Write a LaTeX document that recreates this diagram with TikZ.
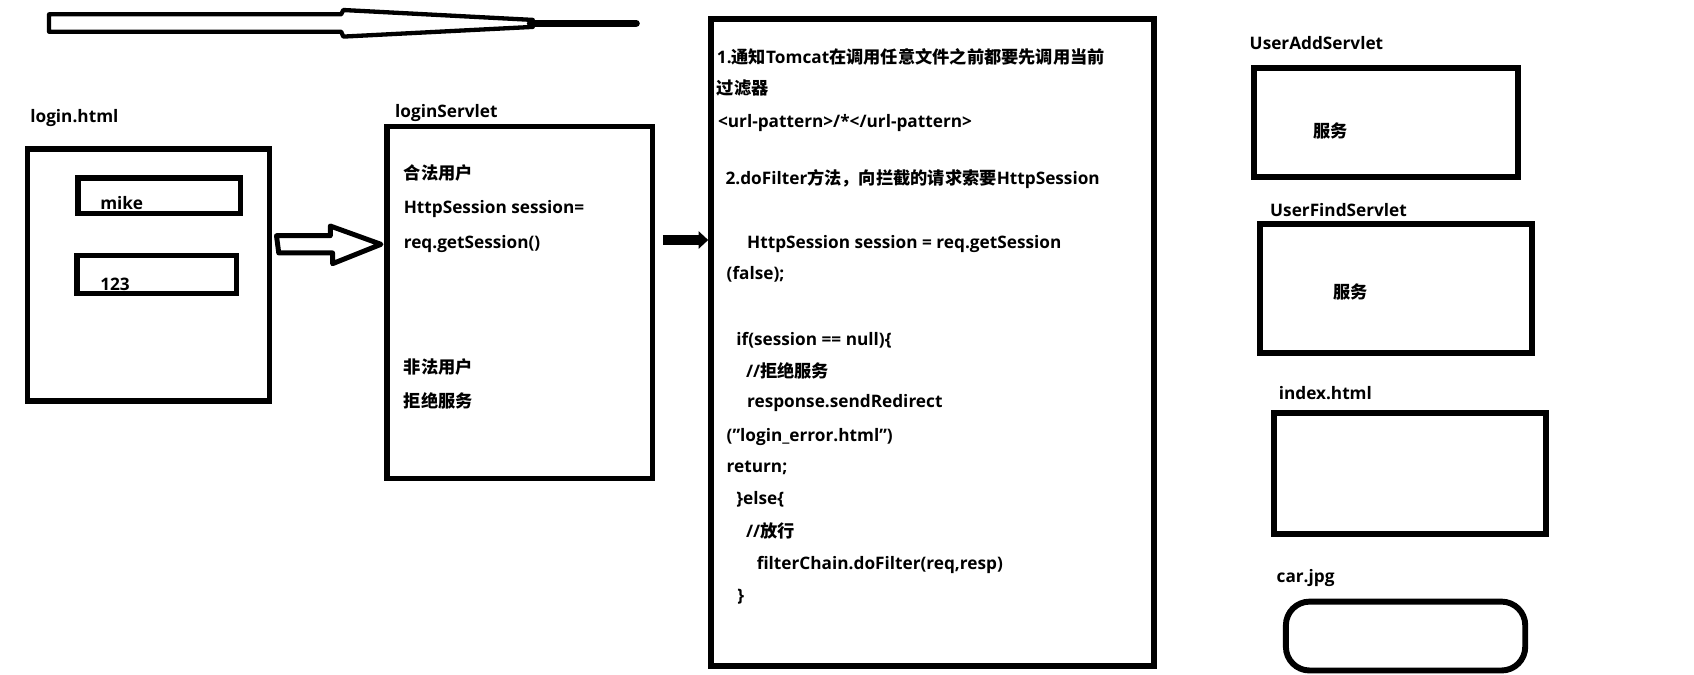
\documentclass[tikz,border=0pt]{standalone}
\usepackage{fontspec}
\setmainfont{Open Sans}
\newfontfamily\cjk{Noto Sans CJK SC}
\usetikzlibrary{calc,arrows.meta}

\tikzset{
  box/.style={draw, line width=5pt, inner sep=0pt},
  txt/.style={anchor=base west, inner sep=0pt, font=\fontsize{16}{18}\selectfont\bfseries},
}

\begin{document}
\begin{tikzpicture}[x=1pt,y=-1pt]

\useasboundingbox (0,0) rectangle (1574,627);

% the long arrow at the top
\draw[line width=4pt, line join=round] (45.6,13.3) -- (317,13.3) -- (319,9.3) -- (495,18.5)
   -- (495,25) -- (319,34) -- (317,29.5) -- (45.6,29.5) -- cycle;
\draw[line width=7pt, line cap=round] (493,21.7) -- (591,21.7);

% login.html
\node[txt] (loginlbl) at (28,114) {login.html};
\node[box, minimum width=225pt, minimum height=234pt] (login) at (137.9,255.5) {};
\node[box, minimum width=151pt, minimum height=33pt] (user) at (148,182) {};
\node[txt] (userval) at (93,195) {mike};
\node[box, minimum width=148pt, minimum height=35pt] (pwd) at (145.5,255) {};
\node[txt] (pwdval) at (93,270) {123};

% loginServlet
\node[txt] (servletlbl) at (367,109) {loginServlet};
\node[box, minimum width=247pt, minimum height=327pt] (servlet) at (483,281) {};
\node[txt] (ok1) at (375,167) {\cjk 合法用户};
\node[txt] (ok2) at (375,198) {HttpSession session=};
\node[txt] (ok3) at (375,231) {req.getSession()};
\node[txt] (bad1) at (375,347) {\cjk 非法用户};
\node[txt] (bad2) at (375,379) {\cjk 拒绝服务};

\draw[line width=4.6pt, line join=round] ($(login.east |- 0,219)+(4,0)$) -- ++(50,0) -- ++(0,-9)
   -- ($(servlet.west |- 0,227)+(-3,0)$) -- ++(-45,18) -- ++(0,-10) -- ++(-50,0) -- cycle;

% filter
\node[box, line width=5.5pt, minimum width=411.4pt, minimum height=601.4pt] (filter) at (866.5,318.5) {};

\draw[line width=9pt, -{Triangle[length=9pt,width=16pt]}] ($(servlet.east |- 0,223)+(7,0)$) -- (filter.west |- 0,223);

\foreach \x/\y/\t [count=\i] in {
  666/59/{1.{\cjk 通知}Tomcat{\cjk 在调用任意文件之前都要先调用当前}},
  666/88/{\cjk 过滤器},
  667/118/{<url-pattern>/*</url-pattern>},
  674/171/{2.doFilter{\cjk 方法，向拦截的请求索要}HttpSession},
  694/231/{HttpSession session = req.getSession},
  675/260/{(false);},
  684/321/{if(session == null)\{},
  693/351/{//{\cjk 拒绝服务}},
  694/379/{response.sendRedirect},
  675/410/{("login\_error.html")},
  675/439/{return;},
  684/469/{\}else\{},
  693/499/{//{\cjk 放行}},
  703/529/{filterChain.doFilter(req,resp)},
  685/559/{\}}
}{
  \node[txt] (code\i) at (\x,\y) {\t};
}

% the resources on the right
\node[txt] (addlbl) at (1161,46) {UserAddServlet};
\node[box, line width=5.5pt, minimum width=245.4pt, minimum height=101.4pt] (useradd) at (1287.5,113.5) {};
\node[txt] (addsvc) at (1220,128) {\cjk 服务};

\node[txt] (findlbl) at (1180,201) {UserFindServlet};
\node[box, line width=5.5pt, minimum width=252.4pt, minimum height=120.4pt] (userfind) at (1297,268) {};
\node[txt] (findsvc) at (1239,277) {\cjk 服务};

\node[txt] (indexlbl) at (1188,371) {index.html};
\node[box, line width=5.5pt, minimum width=252.4pt, minimum height=112.4pt] (index) at (1310,440) {};

\node[txt] (carlbl) at (1186,541) {car.jpg};
\node[box, line width=5.5pt, rounded corners=22pt, minimum width=222.4pt, minimum height=64pt] (car) at (1306,591) {};

\end{tikzpicture}
\end{document}
